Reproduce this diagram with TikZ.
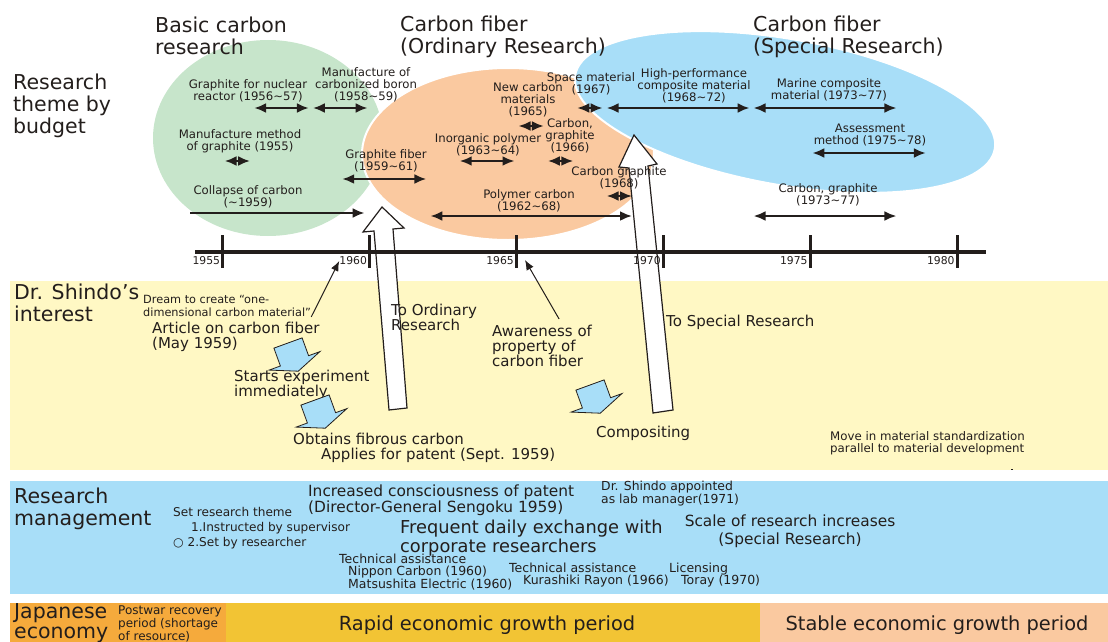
\documentclass[tikz,border=0pt]{standalone}
\usepackage{fontspec}
\setmainfont{DejaVu Sans}
\usetikzlibrary{arrows.meta}

\definecolor{ink}{RGB}{35,30,28}
\definecolor{greenbg}{RGB}{199,229,203}
\definecolor{peach}{RGB}{250,201,160}
\definecolor{skyblue}{RGB}{168,222,248}
\definecolor{paleyellow}{RGB}{255,248,196}
\definecolor{econorange}{RGB}{245,170,60}
\definecolor{econyellow}{RGB}{242,196,52}

% x position of the start of a year on the time axis
\newcommand{\yx}[1]{(222.7+29.38*(#1-1955))}

\tikzset{
  txt/.style={inner sep=0pt, text=ink, align=left},
  hdr/.style={txt, font=\fontsize{20.5}{22}\selectfont},
  lbl/.style={txt, align=center, font=\fontsize{11.7}{12}\selectfont},
  midtxt/.style={txt, font=\fontsize{15}{15}\selectfont},
  yearlbl/.style={txt, anchor=east, font=\fontsize{10.8}{11}\selectfont},
  spanarrow/.style={{Latex[length=12pt,width=10pt]}-{Latex[length=12pt,width=10pt]}, line width=2.6pt, draw=ink, shorten <=2pt, shorten >=2pt},
  pointer/.style={-{Latex[length=10pt,width=8pt]}, line width=1pt, draw=ink},
  hollow/.style={draw=ink, fill=white, line width=1.2pt},
  fatarrow/.pic={\draw[draw=ink, fill=skyblue, line width=0.8pt] (-15,0) -- (15,0) -- (15,19) -- (27,19) -- (0,30) -- (-27,19) -- (-15,19) -- cycle;}
}

\begin{document}
\begin{tikzpicture}[x=1pt,y=-1pt]
\useasboundingbox (0,0) rectangle (1108,642);

% bands
\fill[paleyellow] (10,281) rectangle (1108,470);
\fill[skyblue] (10,481) rectangle (1108,594);
\fill[econorange] (10,603) rectangle (226,642);
\fill[econyellow] (226,603) rectangle (760,642);
\fill[peach] (760,603) rectangle (1108,642);
\draw[ink, line width=1pt] (1011,469) -- (1013,469);

% budget ellipses
\fill[greenbg] (268,138) ellipse [x radius=115, y radius=98];
\filldraw[fill=peach, draw=white, line width=2pt] (508,154) ellipse [x radius=146, y radius=86];
\filldraw[fill=skyblue, draw=white, line width=2pt, rotate around={-10:(785,112)}] (785,112) ellipse [x radius=213, y radius=73];

% hollow arrows
\draw[hollow] (382,207) -- (404,228) -- (393,229) -- (407,408) -- (389,410) -- (374,231) -- (363,232) -- cycle;
\draw[hollow] (634,135) -- (657,164) -- (648,166) -- (673,410) -- (653,413) -- (629,168) -- (619,167) -- cycle;

% time axis
\draw[ink, line width=3.3pt] (195,252) -- (986,252);
\draw[ink, line width=3pt] ({\yx{1955}},235) -- ({\yx{1955}},268);
\draw[ink, line width=3pt] ({\yx{1960}},235) -- ({\yx{1960}},268);
\draw[ink, line width=3pt] ({\yx{1965}},235) -- ({\yx{1965}},268);
\draw[ink, line width=3pt] ({\yx{1970}},235) -- ({\yx{1970}},268);
\draw[ink, line width=3pt] ({\yx{1975}},235) -- ({\yx{1975}},268);
\draw[ink, line width=3pt] ({\yx{1980}},235) -- ({\yx{1980}},268);
\node[yearlbl] (y1955) at ({\yx{1955}-2.5},261) {1955};
\node[yearlbl] (y1960) at ({\yx{1960}-2.5},261) {1960};
\node[yearlbl] (y1965) at ({\yx{1965}-2.5},261) {1965};
\node[yearlbl] (y1970) at ({\yx{1970}-2.5},261) {1970};
\node[yearlbl] (y1975) at ({\yx{1975}-2.5},261) {1975};
\node[yearlbl] (y1980) at ({\yx{1980}-2.5},261) {1980};

% titles
\node[hdr, anchor=west] (budget) at (13,106) {Research\\theme by\\budget};
\node[hdr, anchor=west] (basic) at (155,36) {Basic carbon\\research};
\node[hdr, anchor=west] (ordinary) at (400,37) {Carbon fiber\\(Ordinary Research)};
\node[hdr, anchor=west] (special) at (753,37) {Carbon fiber\\(Special Research)};

% basic carbon research
\node[lbl] (nuclear) at (248,91) {Graphite for nuclear\\reactor (1956∼57)};
\draw[spanarrow] ({\yx{1956}},108) -- ({\yx{1958}},108);
\node[lbl] (boron) at (366,85) {Manufacture of\\carbonized boron\\(1958∼59)};
\draw[spanarrow] ({\yx{1958}},108) -- ({\yx{1960}},108);
\node[lbl] (method) at (240,141) {Manufacture method\\of graphite (1955)};
\draw[spanarrow] ({\yx{1955}},161) -- ({\yx{1956}},161);
\node[lbl] (collapse) at (248,197) {Collapse of carbon\\(∼1959)};
\draw[-{Latex[length=12pt,width=10pt]}, line width=2.6pt, ink] (190,213) -- ({\yx{1960}-5},213);

% ordinary research
\node[lbl] (gfiber) at (386,161) {Graphite fiber\\(1959∼61)};
\draw[spanarrow] ({\yx{1959}},179) -- ({\yx{1962}},179);
\node[lbl] (polycarb) at (529,201) {Polymer carbon\\(1962∼68)};
\draw[spanarrow] ({\yx{1962}},216) -- ({\yx{1969}},216);
\node[lbl] (inorg) at (488,145) {Inorganic polymer\\(1963∼64)};
\draw[spanarrow] ({\yx{1963}},161) -- ({\yx{1965}},161);
\node[lbl] (newcarb) at (528,100) {New carbon\\materials\\(1965)};
\draw[spanarrow] ({\yx{1965}},126) -- ({\yx{1966}},126);
\node[lbl] (cg66) at (570,136) {Carbon,\\graphite\\(1966)};
\draw[spanarrow] ({\yx{1966}},161) -- ({\yx{1967}},161);
\node[lbl] (space) at (591,84) {Space material\\(1967)};
\draw[spanarrow] ({\yx{1967}},108) -- ({\yx{1968}},108);
\node[lbl] (cg68) at (619,178) {Carbon graphite\\(1968)};
\draw[spanarrow] ({\yx{1968}},196) -- ({\yx{1969}},196);

% special research
\node[lbl] (hiperf) at (694,86) {High-performance\\composite material\\(1968∼72)};
\draw[spanarrow] ({\yx{1968}},108) -- ({\yx{1973}},108);
\node[lbl] (marine) at (829,90) {Marine composite\\material (1973∼77)};
\draw[spanarrow] ({\yx{1973}},108) -- ({\yx{1978}},108);
\node[lbl] (assess) at (870,135) {Assessment\\method (1975∼78)};
\draw[spanarrow] ({\yx{1975}},153) -- ({\yx{1979}},153);
\node[lbl] (cg73) at (828,195) {Carbon, graphite\\(1973∼77)};
\draw[spanarrow] ({\yx{1973}},216) -- ({\yx{1978}},216);

% Dr. Shindo's interest
\node[hdr, anchor=west] (shindo) at (14,303) {Dr. Shindo’s\\interest};
\node[txt, anchor=west, font=\fontsize{11.3}{13}\selectfont] (dream) at (143,306) {Dream to create “one-\\dimensional carbon material”};
\node[midtxt, anchor=west] (article) at (152,337) {Article on carbon fiber\\(May 1959)};
\node[midtxt, anchor=west] (starts) at (234,385) {Starts experiment\\immediately};
\node[midtxt, anchor=west] (obtains) at (293,439) {Obtains fibrous carbon};
\node[midtxt, anchor=west] (applies) at (321,455) {Applies for patent (Sept. 1959)};
\node[midtxt, anchor=west] (toord) at (391,317) {To Ordinary\\Research};
\node[midtxt, anchor=west] (aware) at (492,346) {Awareness of\\property of\\carbon fiber};
\node[midtxt, anchor=west] (tospec) at (666,322) {To Special Research};
\node[midtxt, anchor=west] (compos) at (596,433) {Compositing};
\node[txt, anchor=west, font=\fontsize{11.8}{12.5}\selectfont] (standard) at (830,443) {Move in material standardization\\parallel to material development};
\pic[rotate=20] at (288,343) {fatarrow};
\pic[rotate=20] at (315,400) {fatarrow};
\pic[rotate=20] at (590,385) {fatarrow};
\coordinate (tip65) at (525,260);
\draw[pointer] (dream.south east) -- (y1960.west);
\draw[pointer] (aware.north) ++(17,-6) -- (tip65);

% research management
\node[hdr, anchor=west] (mgmt) at (14,509) {Research\\management};
\node[txt, anchor=west, font=\fontsize{12.1}{15}\selectfont] (theme) at (173,528) {Set research theme\\\hspace*{18pt}1.Instructed by supervisor\\○ 2.Set by researcher};
\node[txt, anchor=west, font=\fontsize{15.4}{14}\selectfont] (patent) at (308,500) {Increased consciousness of patent\\(Director-General Sengoku 1959)};
\node[txt, anchor=west, font=\fontsize{17.8}{17}\selectfont] (exchange) at (400,538) {Frequent daily exchange with\\corporate researchers};
\node[txt, anchor=west, font=\fontsize{12.4}{13}\selectfont] (labmgr) at (601,494) {Dr. Shindo appointed\\as lab manager(1971)};
\node[txt, align=center, font=\fontsize{15.4}{18}\selectfont] (scale) at (790,531) {Scale of research increases\\(Special Research)};
\node[txt, anchor=west, font=\fontsize{12.5}{12.5}\selectfont] (assist1) at (339,572) {Technical assistance\\\hspace*{9pt}Nippon Carbon (1960)\\\hspace*{9pt}Matsushita Electric (1960)};
\node[txt, anchor=west, font=\fontsize{12.5}{12.5}\selectfont] (assist2) at (509,575) {Technical assistance\\\hspace*{14pt}Kurashiki Rayon (1966)};
\node[txt, anchor=west, font=\fontsize{12.5}{12.5}\selectfont] (license) at (669,575) {Licensing\\\hspace*{12pt}Toray (1970)};

% Japanese economy
\node[hdr, anchor=west, font=\fontsize{20.5}{20}\selectfont] (japan) at (14,623) {Japanese\\economy};
\node[txt, anchor=west, font=\fontsize{12}{11}\selectfont] (postwar) at (118,624) {Postwar recovery\\period (shortage\\of resource)};
\node[txt, font=\fontsize{19.4}{20}\selectfont] (rapid) at (487,625) {Rapid economic growth period};
\node[txt, font=\fontsize{19.4}{20}\selectfont] (stable) at (937,625) {Stable economic growth period};

\end{tikzpicture}
\end{document}
